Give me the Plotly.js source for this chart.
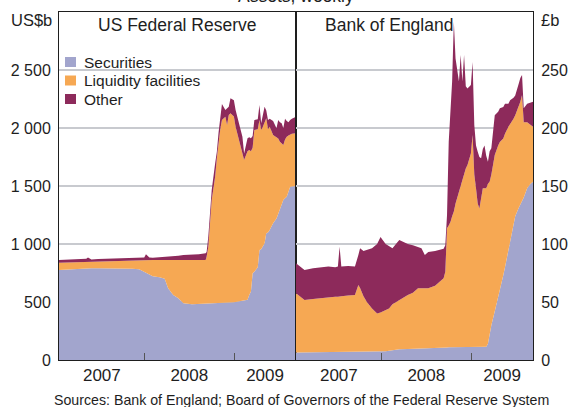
<!DOCTYPE html>
<html>
<head>
<meta charset="utf-8">
<script src="https://cdn.plot.ly/plotly-3.0.1.min.js"></script>
<style>
  html, body { margin: 0; padding: 0; background: #ffffff; }
  #chart { width: 569px; height: 407px; }
</style>
</head>
<body>
<div id="chart"></div>
<script>
// ---------------- Data ----------------
// US Federal Reserve, US$b
const fedDates = [
  '2007-01-13','2007-02-10','2007-03-10','2007-04-07','2007-05-05','2007-05-12','2007-05-26',
  '2007-06-23','2007-07-21','2007-08-18','2007-09-15','2007-10-13','2007-11-10','2007-12-08',
  '2007-12-29','2008-01-05','2008-01-19','2008-02-02','2008-03-01','2008-03-22','2008-04-05',
  '2008-04-26','2008-05-17','2008-06-07','2008-07-12','2008-08-09','2008-09-06','2008-09-10',
  '2008-09-17','2008-10-01','2008-10-15','2008-10-22','2008-10-29','2008-11-05','2008-11-12',
  '2008-11-26','2008-12-03','2008-12-10','2008-12-17','2008-12-31','2009-01-07','2009-01-21',
  '2009-02-04','2009-02-11','2009-02-25','2009-03-04','2009-03-11','2009-03-18','2009-03-25',
  '2009-04-08','2009-04-15','2009-04-22','2009-04-29','2009-05-06','2009-05-13','2009-05-20',
  '2009-05-27','2009-06-10','2009-06-24','2009-07-01','2009-07-08','2009-07-15','2009-07-22',
  '2009-07-29','2009-08-05','2009-08-12','2009-08-19','2009-08-26','2009-09-12'
];
const fedSecurities = [
  776,780,784,788,790,790,790,
  790,790,790,789,788,786,782,
  761,750,733,722,713,700,618,
  560,532,489,480,482,484,486,
  488,490,490,490,490,490,491,
  492,493,494,495,497,500,505,
  506,510,520,560,590,747,760,
  800,948,955,980,1006,1092,1100,
  1120,1178,1220,1264,1300,1351,1380,
  1395,1408,1450,1494,1495,1500
];
const fedLiquidity = [
  63,61,59,56,55,56,55,
  57,59,62,65,68,72,78,
  101,112,129,140,149,162,244,
  302,330,373,382,380,378,404,
  489,889,1090,1250,1407,1500,1578,
  1606,1533,1618,1632,1603,1511,1392,
  1290,1214,1280,1250,1210,1083,1223,
  1190,1121,1028,1030,1034,991,890,
  890,762,700,646,582,519,473,
  505,517,485,446,455,454
];
const fedOther = [
  23,25,25,26,27,38,21,
  23,23,23,20,26,20,20,
  22,49,22,20,24,26,28,
  30,36,43,46,50,58,40,
  86,87,115,56,63,79,138,
  57,144,72,129,140,144,143,
  129,56,111,110,111,100,86,
  85,129,57,90,144,67,79,
  70,120,77,160,168,170,147,
  180,135,115,129,130,144
];

// Bank of England, £b
const boeDates = [
  '2007-01-13','2007-02-17','2007-03-24','2007-04-28','2007-05-26','2007-06-23','2007-07-04',
  '2007-07-11','2007-07-18','2007-08-15','2007-09-12','2007-09-26','2007-10-03','2007-10-17',
  '2007-10-31','2007-11-21','2007-12-12','2007-12-26','2008-01-16','2008-01-30','2008-02-13',
  '2008-03-12','2008-04-16','2008-05-07','2008-05-28','2008-06-11','2008-06-25','2008-07-09',
  '2008-08-06','2008-08-27','2008-09-10','2008-09-17','2008-09-24','2008-10-01','2008-10-08',
  '2008-10-15','2008-10-22','2008-10-29','2008-11-12','2008-11-19','2008-11-26','2008-12-03',
  '2008-12-10','2008-12-17','2008-12-31','2009-01-07','2009-01-14','2009-01-21','2009-01-28',
  '2009-02-04','2009-02-11','2009-02-18','2009-02-25','2009-03-04','2009-03-11','2009-03-18',
  '2009-03-25','2009-04-08','2009-04-22','2009-04-29','2009-05-13','2009-05-20','2009-06-03',
  '2009-06-10','2009-06-24','2009-07-01','2009-07-15','2009-07-22','2009-07-29','2009-08-05',
  '2009-08-19','2009-09-02','2009-09-12'
];
const boeSecurities = [
  6.5,6.6,6.7,6.8,6.9,6.9,7.0,
  7.0,7.0,7.0,7.0,7.1,7.1,7.1,
  7.1,7.2,7.2,7.2,7.5,8.0,8.5,
  9.2,9.5,9.6,9.8,9.9,10.0,10.0,
  10.0,10.1,10.1,10.5,10.8,11.0,11.0,
  11.0,11.1,11.1,11.2,11.3,11.4,11.5,
  11.5,11.5,11.5,11.5,11.5,11.5,11.5,
  11.5,11.5,11.5,11.5,11.5,14.0,24.0,
  30.0,42.0,54.0,59.0,73.0,80.0,95.0,
  102.0,118.0,124.0,131.0,134.0,137.0,140.0,
  148.0,152.0,153.7
];
const boeLiquidity = [
  51.0,45.1,45.8,46.7,47.1,47.6,47.6,
  48.0,48.0,48.5,49.0,57.6,54.9,47.9,
  42.9,37.3,32.8,33.8,35.5,36.5,39.5,
  42.5,46.5,48.4,52.0,51.9,52.0,51.8,
  54.0,57.4,60.3,65.5,102.7,105.0,108.0,
  113.0,116.9,123.9,133.8,138.7,145.2,148.5,
  153.5,156.5,166.5,182.5,148.5,136.5,123.5,
  119.2,128.5,136.5,136.5,136.5,138.0,129.7,
  130.0,134.7,131.0,129.0,118.0,115.0,106.0,
  101.0,90.0,87.0,87.0,88.7,91.4,65.0,
  57.0,51.0,47.3
];
const boeOther = [
  25.8,25.9,26.5,26.5,26.5,25.5,25.9,
  42.7,25.5,25.5,24.5,25.8,34.3,39.0,
  45.0,51.8,60.0,65.0,57.0,53.5,48.3,
  51.8,44.0,41.0,35.2,34.5,28.5,31.2,
  30.0,27.5,25.6,23.0,11.5,72.0,101.0,
  116.0,163.6,125.0,95.0,113.0,83.4,103.0,
  71.0,66.0,59.0,63.0,42.6,37.0,44.6,
  44.3,33.9,34.0,37.0,28.0,19.0,26.3,
  22.5,34.3,29.0,29.0,27.0,26.0,20.0,
  21.0,18.0,17.0,20.0,20.3,17.3,12.0,
  16.0,19.0,21.7
];

// Series names / colours
const seriesNames = ['Securities', 'Liquidity facilities', 'Other'];
const seriesColors = ['#a2a5cd', '#f6a853', '#8d2a5b'];

// Axis tick labels
const yLeftTicks = [0, 500, 1000, 1500, 2000, 2500];
const yLeftText = ['0', '500', '1 000', '1 500', '2 000', '2 500'];
const yRightTicks = [0, 50, 100, 150, 200, 250];
const yRightText = ['0', '50', '100', '150', '200', '250'];
const yearLabels = ['2007', '2008', '2009'];
const yearLabelDates = ['2007-07-08', '2008-07-01', '2009-05-08'];
const yearBoundaries = ['2008-01-01', '2009-01-01'];
const xRange = ['2007-01-13', '2009-09-12'];

// ---------------- Traces ----------------
function areaTrace(x, y, i, xa, ya, group) {
  return {
    type: 'scatter', mode: 'lines', x: x, y: y,
    name: seriesNames[i], stackgroup: group,
    line: { width: 0, color: seriesColors[i] },
    fillcolor: seriesColors[i],
    xaxis: xa, yaxis: ya, showlegend: false, hoverinfo: 'skip'
  };
}
const traces = [
  areaTrace(fedDates, fedSecurities, 0, 'x', 'y', 'fed'),
  areaTrace(fedDates, fedLiquidity, 1, 'x', 'y', 'fed'),
  areaTrace(fedDates, fedOther, 2, 'x', 'y', 'fed'),
  areaTrace(boeDates, boeSecurities, 0, 'x2', 'y2', 'boe'),
  areaTrace(boeDates, boeLiquidity, 1, 'x2', 'y2', 'boe'),
  areaTrace(boeDates, boeOther, 2, 'x2', 'y2', 'boe')
];

// ---------------- Layout ----------------
const FONT = 'Liberation Sans, Arial, Helvetica, sans-serif';
const TXT = '#1e1e1e';
const LINE = '#1e1e1e';
const GRID = '#c8cacf';

function xAxis(domain, anchor) {
  return {
    domain: domain, anchor: anchor, type: 'date', range: xRange,
    tickmode: 'array', tickvals: yearLabelDates, ticktext: yearLabels,
    ticks: '', showgrid: false, zeroline: false,
    showline: true, mirror: true, linecolor: LINE, linewidth: 1,
    tickfont: { family: FONT, size: 17, color: TXT },
    minor: { tickmode: 'array', tickvals: yearBoundaries, ticks: 'inside', ticklen: 7,
             tickcolor: '#555555', tickwidth: 1, showgrid: false },
    fixedrange: true
  };
}
function yAxis(range, vals, text, anchor, side) {
  return {
    anchor: anchor, side: side, range: range, domain: [0, 1],
    tickmode: 'array', tickvals: vals, ticktext: text,
    ticks: '', ticklabelstandoff: 4,
    showgrid: true, gridcolor: GRID, gridwidth: 1.5, zeroline: false,
    showline: true, mirror: true, linecolor: LINE, linewidth: 1,
    tickfont: { family: FONT, size: 16, color: TXT },
    fixedrange: true
  };
}

const PL = 59, PT = 12, PW = 474, PH = 348;
const px = v => (v - PL) / PW;          // pixel -> paper x (for text/legend placement)
const py = v => (PT + PH - v) / PH;     // pixel -> paper y

const annotations = [
  { text: 'Assets, weekly', x: px(296), y: py(-4), xanchor: 'center', yanchor: 'middle', size: 17.5 },
  { text: 'US Federal Reserve', x: px(177.5), y: py(25), xanchor: 'center', yanchor: 'middle', size: 17.5 },
  { text: 'Bank of England', x: px(389), y: py(25), xanchor: 'center', yanchor: 'middle', size: 17.5 },
  { text: 'US$b', x: px(54), y: py(19.5), xanchor: 'right', yanchor: 'middle', size: 16.5 },
  { text: '£b', x: px(539), y: py(19.5), xanchor: 'left', yanchor: 'middle', size: 16.5 },
  { text: 'Sources: Bank of England; Board of Governors of the Federal Reserve System',
    x: px(301), y: py(400), xanchor: 'center', yanchor: 'middle', size: 14.2 }
].map(a => ({
  xref: 'paper', yref: 'paper', x: a.x, y: a.y, xanchor: a.xanchor, yanchor: a.yanchor,
  text: a.text, showarrow: false, font: { family: FONT, size: a.size, color: TXT }
}));

// Manual legend (squares + labels)
const legendRows = [62, 80.5, 99];
const shapes = [];
seriesNames.forEach((name, i) => {
  const cy = legendRows[i];
  shapes.push({
    type: 'rect', xref: 'paper', yref: 'paper',
    x0: px(65), x1: px(76), y0: py(cy + 5), y1: py(cy - 5),
    fillcolor: seriesColors[i], line: { width: 0 }
  });
  annotations.push({
    xref: 'paper', yref: 'paper', x: px(81.5), y: py(cy), xanchor: 'left', yanchor: 'middle',
    text: name, showarrow: false, font: { family: FONT, size: 15.5, color: TXT }
  });
});

const layout = {
  width: 569, height: 407,
  margin: { l: PL, r: 569 - PL - PW, t: PT, b: 407 - PT - PH, pad: 0 },
  paper_bgcolor: '#ffffff', plot_bgcolor: '#ffffff',
  font: { family: FONT, size: 16, color: TXT },
  showlegend: false,
  xaxis: xAxis([0, 0.5], 'y'),
  yaxis: yAxis([0, 3000], yLeftTicks, yLeftText, 'x', 'left'),
  xaxis2: xAxis([0.5, 1], 'y2'),
  yaxis2: yAxis([0, 300], yRightTicks, yRightText, 'x2', 'right'),
  annotations: annotations,
  shapes: shapes
};

Plotly.newPlot('chart', traces, layout, { staticPlot: true, displayModeBar: false });
</script>
</body>
</html>
